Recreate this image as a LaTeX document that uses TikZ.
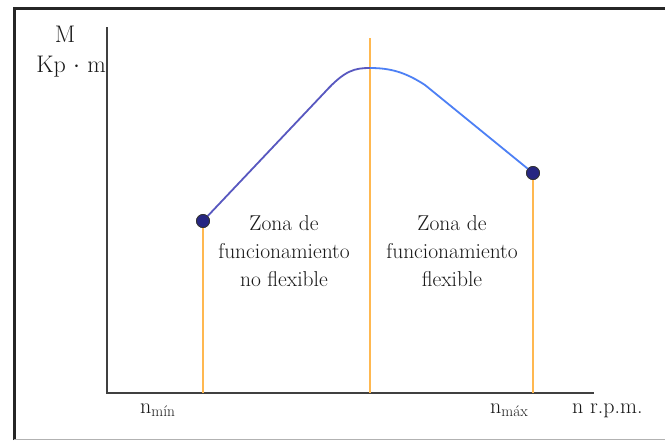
\documentclass[tikz,border=0pt]{standalone}
\usepackage{fontspec}
\definecolor{orln}{HTML}{FFB850}
\definecolor{bluedark}{HTML}{5858C0}
\definecolor{bluelight}{HTML}{4D80F5}
\definecolor{dotfill}{HTML}{262682}
\begin{document}
\begin{tikzpicture}[x=1pt,y=-1pt,
  lbl/.style={font=\fontsize{21.5}{28}\selectfont, align=center, inner sep=0pt, text=black!90},
  axl/.style={font=\fontsize{22}{24}\selectfont, inner sep=0pt, text=black!90},
  yl/.style={font=\fontsize{24}{26}\selectfont, inner sep=0pt, text=black!90},
  vline/.style={draw=orln, line width=1.5pt},
  dotn/.style={circle, fill=dotfill, draw=black!80, line width=0.8pt, minimum size=13pt, inner sep=0pt},
  axis/.style={draw=black!75, line width=1.6pt}]
\useasboundingbox (0,0) rectangle (665,440);
\fill[white] (0,0) rectangle (665,440);
% frame
\draw[black!85, line width=3pt] (14,440) -- (14,8) -- (665,8);
\draw[black!30, line width=1pt] (14,439) -- (665,439);
% axes
\coordinate (o) at (107,393);
\coordinate (ytop) at (107,27);
\coordinate (xend) at (594,393);
\draw[axis] (ytop) -- (o) -- (xend);
% orange verticals
\coordinate (b1) at (203,393);
\coordinate (b2) at (370,393);
\coordinate (t2) at (370,38);
\coordinate (b3) at (533,393);
\node[dotn] (d1) at (203,221) {};
\node[dotn] (d2) at (533,173) {};
\draw[vline] (d1.center) -- (b1);
\draw[vline] (t2) -- (b2);
\draw[vline] (d2.center) -- (b3);
% curve
\coordinate (peak) at (370,68);
\draw[bluedark, line width=1.8pt] (d1.center) -- (325,92) .. controls (345,70) and (355,68) .. (peak);
\draw[bluelight, line width=1.8pt] (peak) .. controls (390,68) and (405,72) .. (425,85) -- (d2.center);
\node[dotn] at (d1) {};
\node[dotn] at (d2) {};
% labels
\node[yl, anchor=base] (m) at (65,42) {M};
\node[yl, anchor=base east] (kp) at (106,72) {Kp $\cdot$ m};
\node[lbl] (z1) at (284,251) {Zona de\\funcionamiento\\no flexible};
\node[lbl] (z2) at (452,251) {Zona de\\funcionamiento\\flexible};
\node[axl, anchor=base west] (nmin) at (140,413) {n\textsubscript{mín}};
\node[axl, anchor=base west] (nmax) at (490,413) {n\textsubscript{máx}};
\node[axl, anchor=base west] (nrpm) at (572,413) {n r.p.m.};
\end{tikzpicture}
\end{document}
